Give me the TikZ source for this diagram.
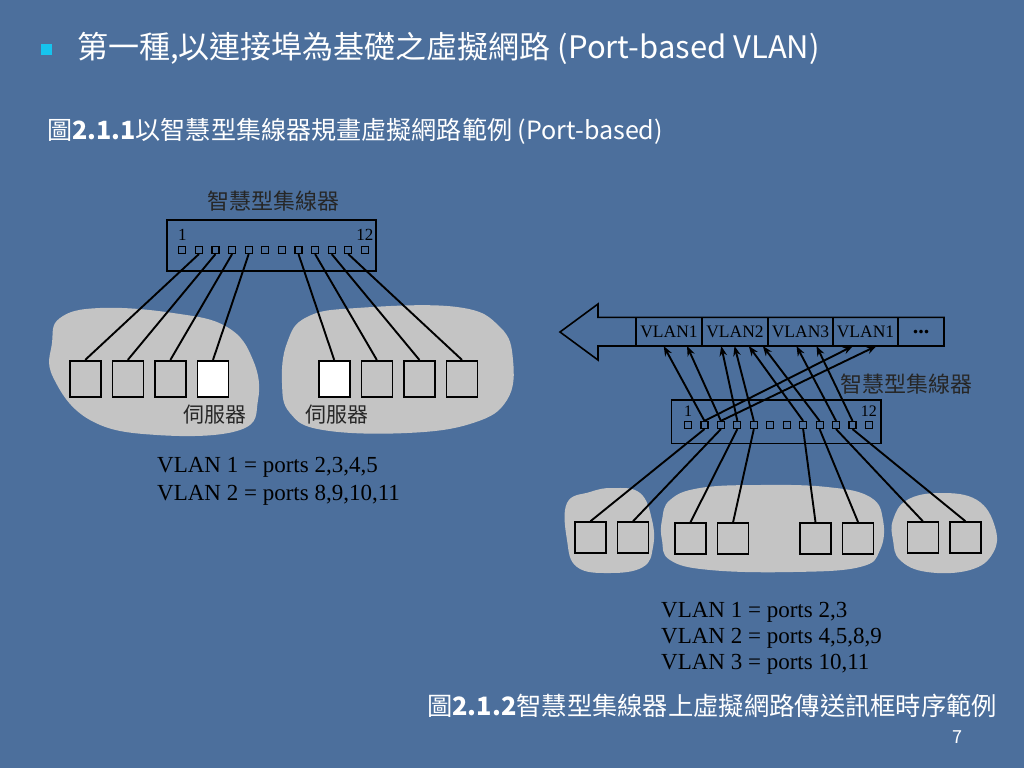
\documentclass[tikz,border=0pt]{standalone}
\usepackage{fontspec}
\setmainfont{Liberation Serif}
\newfontfamily\cjk{Noto Sans CJK TC}
\usetikzlibrary{positioning,arrows.meta}
\definecolor{slidebg}{RGB}{76,111,156}
\definecolor{blobgray}{RGB}{196,196,196}
\definecolor{bulletcyan}{RGB}{22,196,238}
\tikzset{port/.style={draw=black, line width=1.2pt, minimum size=7pt, inner sep=0pt},
  dev/.style={draw=black, line width=1.6pt, fill=blobgray, minimum width=31pt, minimum height=31pt, inner sep=0pt},
  hub/.style={draw=black, line width=1.6pt, inner sep=0pt},
  slot/.style={draw=black, line width=1.6pt, inner sep=0pt, outer sep=0pt, minimum height=28.7pt, font=\fontsize{17.5}{19}\selectfont},
  wire/.style={draw=black, line width=1.9pt},
  arr/.style={wire, -{Stealth[length=10pt,width=7.5pt]}},
  cloud/.style={fill=blobgray, draw=none},
  txt/.style={inner sep=0pt}}

\begin{document}
\begin{tikzpicture}[x=1pt, y=-1pt]
		\useasboundingbox (0,0) rectangle (1024,768);
		\fill[slidebg] (0,0) rectangle (1024,768);
		
		% headings
		\node[fill=bulletcyan, minimum size=11pt, inner sep=0pt] (dot) at (46,50) {};
		\node[txt, anchor=west, text=white, font=\cjk\fontsize{31}{36}\selectfont] (title) at (77,48) {第一種,以連接埠為基礎之虛擬網路 (Port-based VLAN)};
		\node[txt, anchor=west, text=white, font=\cjk\fontsize{25.1}{30}\selectfont] (sub) at (47,131) {圖\textbf{2.1.1}以智慧型集線器規畫虛擬網路範例 (Port-based)};
		
		% left picture
		\fill[cloud] plot[smooth cycle, tension=0.7] coordinates {(60,318) (100,308) (173,313) (227,327) (253,360) (258,400) (240,430) (157,435) (90,420) (53,377) (52,343)};
		\fill[cloud] plot[smooth cycle, tension=0.7] coordinates {(287,343) (307,317) (357,308) (457,307) (500,327) (513,360) (507,400) (473,423) (407,433) (323,430) (290,413) (282,383)};
		
		\node[txt, text=black!85, font=\cjk\fontsize{22}{26}\selectfont] (A0) at (273,201) {智慧型集線器};
		\node[hub, minimum width=209pt, minimum height=50.7pt] (A) at (271.2,245.4) {};
		\foreach \i in {1,...,12}
			\node[port] (L\i) at ({182.3+16.6*(\i-1)},250) {};
		\node[txt, font=\fontsize{17}{20}\selectfont] (L1n) [above=5pt of L1] {1};
		\node[txt, font=\fontsize{17}{20}\selectfont] (L12n) [above=5pt of L12] {12};
		
		\node[dev, minimum height=36pt] (a1) at (85.2,378.7) {};
		\node[dev, minimum height=36pt] (a2) [right=10pt of a1] {};
		\node[dev, minimum height=36pt] (a3) [right=10pt of a2] {};
		\node[dev, minimum height=36pt, fill=white] (a4) [right=10pt of a3] {};
		\node[dev, minimum height=36pt, fill=white] (a5) at (334.2,378.7) {};
		\node[dev, minimum height=36pt] (a6) [right=10pt of a5] {};
		\node[dev, minimum height=36pt] (a7) [right=10pt of a6] {};
		\node[dev, minimum height=36pt] (a8) [right=10pt of a7] {};
		\foreach \p/\d in {2/1, 3/2, 4/3, 5/4, 8/5, 9/6, 10/7, 11/8}
			\draw[wire] (L\p.south) -- (a\d.north);
		
		\node[txt, text=black!85, font=\cjk\fontsize{21}{24}\selectfont] (s1) at (215,415) {伺服器};
		\node[txt, text=black!85, font=\cjk\fontsize{21}{24}\selectfont] (s2) at (336.7,415) {伺服器};
		
		\begin{scope}[font=\fontsize{23}{28}\selectfont]
			\node[txt, anchor=base west] (v1) at (157,472) {VLAN 1 = ports 2,3,4,5};
			\node[txt, anchor=base west] (v2) at (157,500) {VLAN 2 = ports 8,9,10,11};
		\end{scope}
		
		% right picture
		\draw[hub] (560,332) -- (598,304) -- (598,317.3) -- (944,317.3) -- (944,346) -- (598,346) -- (598,360) -- cycle;
		\node[slot, minimum width=66pt] (f1) at (669,331.65) {VLAN1};
		\node[slot, minimum width=66pt] (f2) [right=0pt of f1] {VLAN2};
		\node[slot, minimum width=65pt] (f3) [right=0pt of f2] {VLAN3};
		\node[slot, minimum width=65pt] (f4) [right=0pt of f3] {VLAN1};
		\node[slot, minimum width=46pt, font=\fontsize{22}{22}\selectfont] (f5) [right=0pt of f4] {\textbf{...}};
		
		\node[txt, text=black!85, font=\cjk\fontsize{22}{26}\selectfont] (B0) at (906.7,384) {智慧型集線器};
		\node[hub, minimum width=209.3pt, minimum height=43.3pt] (B) at (776.3,421.7) {};
		\foreach \i in {1,...,12}
			\node[port] (R\i) at ({688+16.45*(\i-1)},425) {};
		\node[txt, font=\fontsize{16}{18}\selectfont] (R1n) [above=4pt of R1] {1};
		\node[txt, font=\fontsize{16}{18}\selectfont] (R12n) [above=4pt of R12] {12};
		
		\draw[arr] (R2.north) -- ([xshift=-5.3pt]f1.south);
		\draw[arr] (R3.north) -- ([xshift=18pt]f1.south);
		\draw[arr] (R4.north) -- ([xshift=-13.8pt]f2.south);
		\draw[arr] (R5.north) -- ([xshift=-0.5pt]f2.south);
		\draw[arr] (R8.north) -- ([xshift=13.8pt]f2.south);
		\draw[arr] (R9.north) -- ([xshift=27.8pt]f2.south);
		\draw[arr] (R10.north) -- ([xshift=-4pt]f3.south);
		\draw[arr] (R11.north) -- ([xshift=16pt]f3.south);
		\draw[arr] (R2.north) -- ([xshift=-12.5pt]f4.south);
		\draw[arr] (R3.north) -- ([xshift=11pt]f4.south);
		
		\fill[cloud] plot[smooth cycle, tension=0.7] coordinates {(567,503) (590,492) (613,488) (640,493) (652,520) (653,547) (643,567) (610,573) (577,567) (567,540)};
		\fill[cloud] plot[smooth cycle, tension=0.7] coordinates {(662,520) (670,500) (700,488) (760,485) (827,487) (870,497) (883,520) (880,550) (860,567) (793,572) (710,570) (670,560) (662,540)};
		\fill[cloud] plot[smooth cycle, tension=0.7] coordinates {(893,520) (907,500) (940,493) (977,500) (995,527) (993,553) (970,570) (927,572) (900,560) (893,540)};
		
		\node[dev] (b1) at (590.5,537.5) {};
		\node[dev] (b2) [right=10pt of b1] {};
		\node[dev] (b3) at (690.5,538.5) {};
		\node[dev] (b4) [right=10pt of b3] {};
		\node[dev] (b5) at (815.5,538.5) {};
		\node[dev] (b6) [right=10pt of b5] {};
		\node[dev] (b7) at (922.8,537.5) {};
		\node[dev] (b8) [right=10pt of b7] {};
		\foreach \p/\d in {2/1, 3/2, 4/3, 5/4, 8/5, 9/6, 10/7, 11/8}
			\draw[wire] (R\p.south) -- (b\d.north);
		
		\begin{scope}[font=\fontsize{23}{26}\selectfont]
			\node[txt, anchor=base west] (w1) at (661,617) {VLAN 1 = ports 2,3};
			\node[txt, anchor=base west] (w2) at (661,643) {VLAN 2 = ports 4,5,8,9};
			\node[txt, anchor=base west] (w3) at (661,669) {VLAN 3 = ports 10,11};
		\end{scope}
		
		\node[txt, anchor=west, text=white, font=\cjk\fontsize{25.3}{28}\selectfont] (cap) at (427,706) {圖\textbf{2.1.2}智慧型集線器上虛擬網路傳送訊框時序範例};
		\node[txt, text=white, font=\cjk\fontsize{18}{20}\selectfont] (page) at (957,737) {7};
	\end{tikzpicture}
\end{document}
